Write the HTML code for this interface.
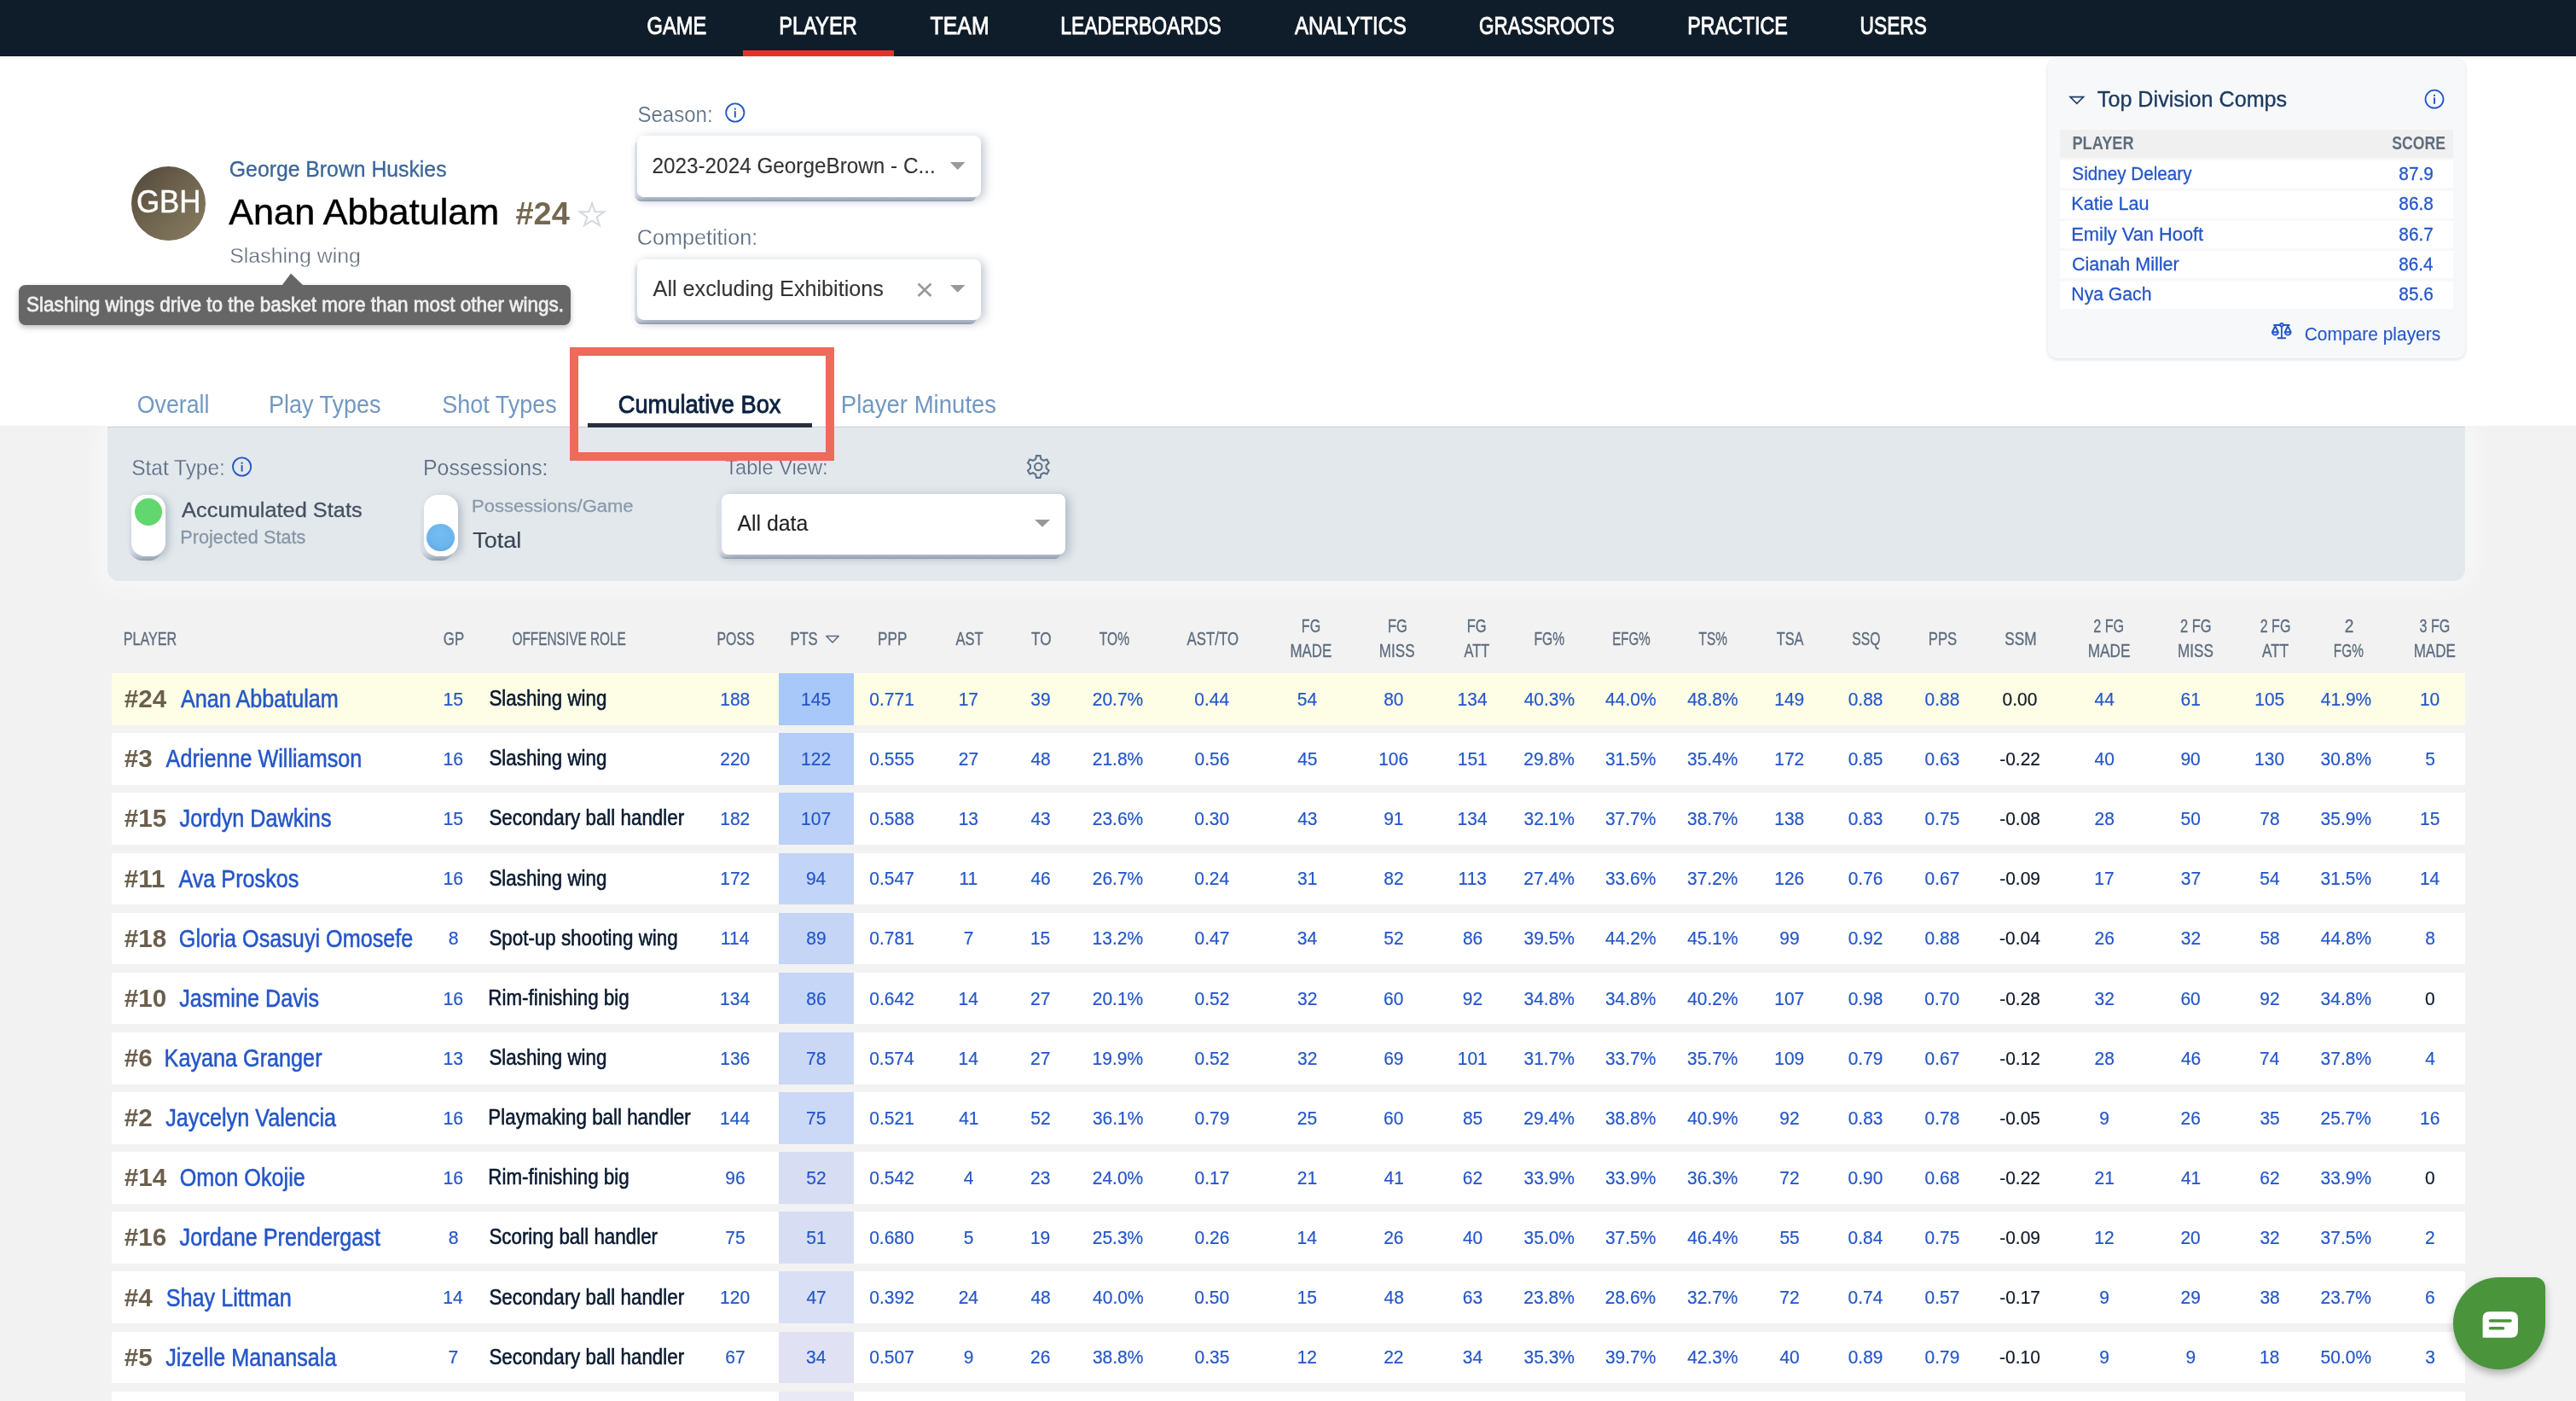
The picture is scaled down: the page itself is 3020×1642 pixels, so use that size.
<!DOCTYPE html>
<html><head><meta charset="utf-8"><style>
html,body{margin:0;padding:0}
body{width:3020px;height:1642px;overflow:hidden;position:relative;background:#f2f2f2;font-family:"Liberation Sans",sans-serif}
.d div{position:absolute}
svg text{font-family:"Liberation Sans",sans-serif;white-space:pre}
.t div{position:absolute}
</style></head><body>
<div class="d"><div style="left:0.0px;top:0.0px;width:3020.0px;height:499.0px;background:#fff"></div>
<div style="left:0.0px;top:0.0px;width:3020.0px;height:66.0px;background:#0f1c29"></div>
<div style="left:871.0px;top:59.0px;width:177.0px;height:7.0px;background:#e8302b"></div>
<div style="left:154.0px;top:195.0px;width:87.0px;height:87.0px;border-radius:50%;background:linear-gradient(135deg,#51473a 0%,#6f654f 50%,#8a7e62 100%)"></div>
<div style="left:22.0px;top:334.0px;width:647.0px;height:47.0px;background:#666;border-radius:8px;box-shadow:0 3px 6px rgba(0,0,0,0.25)"></div>
<div style="left:743.5px;top:163.5px;width:401.5px;height:72.0px;border-radius:8px;background:linear-gradient(to bottom,#e8ebf0 0%,#dde2e9 88%,#c3cbd7 95%,#94a2b8 100%);box-shadow:0 3px 6px rgba(40,60,90,0.07)"></div>
<div style="left:747.0px;top:159.0px;width:403.0px;height:72.0px;background:#fff;border-radius:8px;box-shadow:4px 2px 12px rgba(60,80,110,0.32)"></div>
<div style="left:743.5px;top:308.3px;width:401.5px;height:71.5px;border-radius:8px;background:linear-gradient(to bottom,#e8ebf0 0%,#dde2e9 88%,#c3cbd7 95%,#94a2b8 100%);box-shadow:0 3px 6px rgba(40,60,90,0.07)"></div>
<div style="left:747.0px;top:303.8px;width:403.0px;height:71.5px;background:#fff;border-radius:8px;box-shadow:4px 2px 12px rgba(60,80,110,0.32)"></div>
<div style="left:2401.0px;top:69.2px;width:488.6px;height:351.2px;background:#f7f8fa;border-radius:10px;box-shadow:0 1px 4px rgba(0,0,0,0.14)"></div>
<div style="left:2415.0px;top:152.2px;width:461.0px;height:32.5px;background:#f0f0f0"></div>
<div style="left:2415.0px;top:188.2px;width:461.0px;height:32.0px;background:#fff"></div>
<div style="left:2415.0px;top:223.5px;width:461.0px;height:32.0px;background:#fff"></div>
<div style="left:2415.0px;top:258.9px;width:461.0px;height:32.0px;background:#fff"></div>
<div style="left:2415.0px;top:294.2px;width:461.0px;height:32.0px;background:#fff"></div>
<div style="left:2415.0px;top:329.6px;width:461.0px;height:32.0px;background:#fff"></div>
<div style="left:126.0px;top:499.5px;width:2764.0px;height:180.6px;background:#e3e8ec;border-top:1px solid #c9d2dc;border-radius:0 0 14px 14px;box-shadow:0 0 30px 6px rgba(255,255,255,0.55)"></div>
<div style="left:689.0px;top:495.8px;width:263.0px;height:5.0px;background:#26303c"></div>
<div style="left:150.7px;top:584.8px;width:40.0px;height:72.0px;border-radius:16px;background:linear-gradient(to bottom,#e3e7ed 0%,#dadfe7 86%,#bcc5d2 94%,#94a2b8 100%)"></div>
<div style="left:154.2px;top:580.3px;width:40.0px;height:72.0px;border-radius:16px;background:#fff;box-shadow:4px 2px 10px rgba(70,90,120,0.30)"></div>
<div style="left:157.8px;top:583.5px;width:32.5px;height:32.5px;border-radius:50%;background:radial-gradient(circle at 50% 40%,#64d870 0%,#62d66e 70%,#52bd5f 100%)"></div>
<div style="left:493.1px;top:584.8px;width:40.0px;height:72.0px;border-radius:16px;background:linear-gradient(to bottom,#e3e7ed 0%,#dadfe7 86%,#bcc5d2 94%,#94a2b8 100%)"></div>
<div style="left:496.6px;top:580.3px;width:40.0px;height:72.0px;border-radius:16px;background:#fff;box-shadow:4px 2px 10px rgba(70,90,120,0.30)"></div>
<div style="left:500.4px;top:613.9px;width:32.5px;height:32.5px;border-radius:50%;background:radial-gradient(circle at 50% 35%,#74bcf2 0%,#6cb4ee 60%,#5a98cc 100%)"></div>
<div style="left:842.5px;top:583.0px;width:401.5px;height:71.7px;border-radius:8px;background:linear-gradient(to bottom,#e8ebf0 0%,#dde2e9 88%,#c3cbd7 95%,#94a2b8 100%);box-shadow:0 3px 6px rgba(40,60,90,0.07)"></div>
<div style="left:846.0px;top:578.5px;width:403.0px;height:71.7px;background:#fff;border-radius:8px;box-shadow:4px 2px 12px rgba(60,80,110,0.32)"></div>
<div style="left:130.9px;top:789.0px;width:2759.1px;height:60.8px;background:#fefee6"></div>
<div style="left:913.0px;top:789.0px;width:88.0px;height:60.8px;background:#a8c8fa"></div>
<div style="left:130.9px;top:859.2px;width:2759.1px;height:60.8px;background:#fff"></div>
<div style="left:913.0px;top:859.2px;width:88.0px;height:60.8px;background:#b4cdf9"></div>
<div style="left:130.9px;top:929.3px;width:2759.1px;height:60.8px;background:#fff"></div>
<div style="left:913.0px;top:929.3px;width:88.0px;height:60.8px;background:#bbd1f8"></div>
<div style="left:130.9px;top:999.5px;width:2759.1px;height:60.8px;background:#fff"></div>
<div style="left:913.0px;top:999.5px;width:88.0px;height:60.8px;background:#c2d4f7"></div>
<div style="left:130.9px;top:1069.6px;width:2759.1px;height:60.8px;background:#fff"></div>
<div style="left:913.0px;top:1069.6px;width:88.0px;height:60.8px;background:#c4d5f6"></div>
<div style="left:130.9px;top:1139.7px;width:2759.1px;height:60.8px;background:#fff"></div>
<div style="left:913.0px;top:1139.7px;width:88.0px;height:60.8px;background:#c6d6f6"></div>
<div style="left:130.9px;top:1209.9px;width:2759.1px;height:60.8px;background:#fff"></div>
<div style="left:913.0px;top:1209.9px;width:88.0px;height:60.8px;background:#cad8f6"></div>
<div style="left:130.9px;top:1280.0px;width:2759.1px;height:60.8px;background:#fff"></div>
<div style="left:913.0px;top:1280.0px;width:88.0px;height:60.8px;background:#cbd8f6"></div>
<div style="left:130.9px;top:1350.2px;width:2759.1px;height:60.8px;background:#fff"></div>
<div style="left:913.0px;top:1350.2px;width:88.0px;height:60.8px;background:#d7def4"></div>
<div style="left:130.9px;top:1420.3px;width:2759.1px;height:60.8px;background:#fff"></div>
<div style="left:913.0px;top:1420.3px;width:88.0px;height:60.8px;background:#d7def4"></div>
<div style="left:130.9px;top:1490.4px;width:2759.1px;height:60.8px;background:#fff"></div>
<div style="left:913.0px;top:1490.4px;width:88.0px;height:60.8px;background:#d9dff4"></div>
<div style="left:130.9px;top:1560.6px;width:2759.1px;height:60.8px;background:#fff"></div>
<div style="left:913.0px;top:1560.6px;width:88.0px;height:60.8px;background:#e0e2f3"></div>
<div style="left:130.9px;top:1630.7px;width:2759.1px;height:60.0px;background:#fff"></div>
<div style="left:913.0px;top:1630.7px;width:88.0px;height:60.0px;background:#e8e9f4"></div></div>
<svg style="position:absolute;left:0;top:0;will-change:transform" width="3020" height="1642">
<path d="M694,238.2 L697.5,248.3 L708.2,248.3 L699.6,254.4 L702.8,264.2 L694,258.6 L685.2,264.2 L688.4,254.4 L679.8,248.3 L690.5,248.3 Z" fill="none" stroke="#d3d9df" stroke-width="2" stroke-linejoin="miter"/>
<path d="M330.5,334.5 L341,320.5 L355.5,334.5 Z" fill="#666"/>
<path d="M1114,190 L1131.5,190 L1122.75,199 Z" fill="#999"/>
<path d="M1076.5,332.5 L1091.5,347 M1091.5,332.5 L1076.5,347" stroke="#999" stroke-width="2.6"/>
<path d="M1114,333.9 L1131.5,333.9 L1122.75,342.7 Z" fill="#999"/>
<circle cx="861.8" cy="132.0" r="10.60" fill="none" stroke="#2456c8" stroke-width="1.8"/>
<rect x="860.85" y="130.15" width="1.9" height="7.5" fill="#2456c8"/>
<rect x="860.80" y="126.65" width="2" height="2" fill="#2456c8"/>
<path d="M2427,113.6 L2442.6,113.6 L2434.8,121.4 Z" fill="none" stroke="#1f3d62" stroke-width="1.6" stroke-linejoin="miter"/>
<circle cx="2854.0" cy="116.2" r="10.50" fill="none" stroke="#2456c8" stroke-width="1.8"/>
<rect x="2853.05" y="114.35" width="1.9" height="7.5" fill="#2456c8"/>
<rect x="2853.00" y="110.85" width="2" height="2" fill="#2456c8"/>
<g stroke="#2456c8" stroke-width="1.9" fill="none" stroke-linecap="round" stroke-linejoin="round"><path d="M2666,381 L2673,381 M2676.8,381 L2683.8,381 M2674.9,382.6 L2674.9,396.3 M2670.5,396.3 L2679.3,396.3"/><path d="M2667.4,382.3 L2663.9,389.2 M2667.4,382.3 L2670.9,389.2 M2663.9,389.2 L2670.9,389.2 M2663.9,389.2 A3.5,3.4 0 0 0 2670.9,389.2"/><path d="M2682.2,382.3 L2678.7,389.2 M2682.2,382.3 L2685.7,389.2 M2678.7,389.2 L2685.7,389.2 M2678.7,389.2 A3.5,3.4 0 0 0 2685.7,389.2"/><circle cx="2674.9" cy="380.8" r="1.8"/></g>
<circle cx="283.6" cy="547.0" r="10.60" fill="none" stroke="#2456c8" stroke-width="1.8"/>
<rect x="282.65" y="545.15" width="1.9" height="7.5" fill="#2456c8"/>
<rect x="282.60" y="541.65" width="2" height="2" fill="#2456c8"/>
<path d="M1213,609.1 L1231,609.1 L1222,617.8 Z" fill="#999"/>
<path d="M1214.20,538.00 L1215.00,534.10 L1219.60,534.10 L1220.40,538.00 L1223.54,539.82 L1227.32,538.56 L1229.62,542.54 L1226.64,545.18 L1226.64,548.82 L1229.62,551.46 L1227.32,555.44 L1223.54,554.18 L1220.40,556.00 L1219.60,559.90 L1215.00,559.90 L1214.20,556.00 L1211.06,554.18 L1207.28,555.44 L1204.98,551.46 L1207.96,548.82 L1207.96,545.18 L1204.98,542.54 L1207.28,538.56 L1211.06,539.82 Z" fill="none" stroke="#5f7288" stroke-width="2.1" stroke-linejoin="miter"/>
<circle cx="1217.3" cy="547.0" r="4.3" fill="none" stroke="#5f7288" stroke-width="2.1"/>
<path d="M968.8,745.5 L983.2,745.5 L976,753 Z" fill="none" stroke="#5b6b7e" stroke-width="1.6" stroke-linejoin="round"/>
<text transform="translate(758.59 39.90) scale(0.7924 1)" font-size="29.87" fill="#ffffff" stroke="#ffffff" stroke-width="0.90">GAME</text>
<text transform="translate(913.15 39.90) scale(0.7925 1)" font-size="29.87" fill="#ffffff" stroke="#ffffff" stroke-width="0.90">PLAYER</text>
<text transform="translate(1090.61 39.90) scale(0.8323 1)" font-size="29.87" fill="#ffffff" stroke="#ffffff" stroke-width="0.90">TEAM</text>
<text transform="translate(1243.21 39.90) scale(0.7683 1)" font-size="29.87" fill="#ffffff" stroke="#ffffff" stroke-width="0.90">LEADERBOARDS</text>
<text transform="translate(1518.00 39.90) scale(0.7998 1)" font-size="29.87" fill="#ffffff" stroke="#ffffff" stroke-width="0.90">ANALYTICS</text>
<text transform="translate(1733.94 39.90) scale(0.7543 1)" font-size="29.87" fill="#ffffff" stroke="#ffffff" stroke-width="0.90">GRASSROOTS</text>
<text transform="translate(1978.18 39.90) scale(0.7799 1)" font-size="29.87" fill="#ffffff" stroke="#ffffff" stroke-width="0.90">PRACTICE</text>
<text transform="translate(2180.58 39.90) scale(0.7615 1)" font-size="29.87" fill="#ffffff" stroke="#ffffff" stroke-width="0.90">USERS</text>
<text transform="translate(159.97 249.20) scale(0.9417 1)" font-size="36.98" fill="#ffffff" stroke="#ffffff" stroke-width="0.50">GBH</text>
<text transform="translate(268.84 206.50) scale(0.9952 1)" font-size="24.89" fill="#3a6697" stroke="#3a6697" stroke-width="0.30">George Brown Huskies</text>
<text transform="translate(268.30 263.40) scale(1.0223 1)" font-size="42.25" fill="#000000" stroke="#000000" stroke-width="0.50">Anan Abbatulam</text>
<text transform="translate(604.41 263.40) scale(1.0267 1)" font-size="36.98" fill="#746850" font-weight="bold">#24</text>
<text transform="translate(269.22 307.80) scale(1.0121 1)" font-size="24.61" fill="#66717f" stroke="#ffffff" stroke-width="0.30">Slashing wing</text>
<text transform="translate(30.90 364.60) scale(0.9094 1)" font-size="24.75" fill="#eeeeee" stroke="#eeeeee" stroke-width="0.80">Slashing wings drive to the basket more than most other wings.</text>
<text transform="translate(747.45 143.00) scale(0.9287 1)" font-size="25.89" fill="#5b6d82" stroke="#ffffff" stroke-width="0.25">Season:</text>
<text transform="translate(764.46 202.90) scale(0.9495 1)" font-size="25.60" fill="#333333" stroke="#333333" stroke-width="0.10">2023-2024 GeorgeBrown - C...</text>
<text transform="translate(746.82 287.30) scale(1.0065 1)" font-size="25.04" fill="#5b6d82" stroke="#ffffff" stroke-width="0.25">Competition:</text>
<text transform="translate(765.60 347.30) scale(0.9530 1)" font-size="26.46" fill="#333333" stroke="#333333" stroke-width="0.10">All excluding Exhibitions</text>
<text transform="translate(2458.81 124.80) scale(0.9944 1)" font-size="25.32" fill="#1b3a5f" stroke="#1b3a5f" stroke-width="0.35">Top Division Comps</text>
<text transform="translate(2429.46 174.90) scale(0.8300 1)" font-size="21.91" fill="#5f6d7d" font-weight="bold">PLAYER</text>
<text transform="translate(2804.32 174.90) scale(0.8067 1)" font-size="21.91" fill="#5f6d7d" font-weight="bold">SCORE</text>
<text transform="translate(2429.35 210.90) scale(0.9267 1)" font-size="22.33" fill="#2456c8" stroke="#2456c8" stroke-width="0.30">Sidney Deleary</text>
<text transform="translate(2812.35 210.90) scale(0.9292 1)" font-size="22.33" fill="#2456c8" stroke="#2456c8" stroke-width="0.30">87.9</text>
<text transform="translate(2428.31 246.25) scale(0.9675 1)" font-size="22.33" fill="#2456c8" stroke="#2456c8" stroke-width="0.30">Katie Lau</text>
<text transform="translate(2812.35 246.25) scale(0.9292 1)" font-size="22.33" fill="#2456c8" stroke="#2456c8" stroke-width="0.30">86.8</text>
<text transform="translate(2428.29 281.60) scale(0.9778 1)" font-size="22.33" fill="#2456c8" stroke="#2456c8" stroke-width="0.30">Emily Van Hooft</text>
<text transform="translate(2812.35 281.60) scale(0.9292 1)" font-size="22.33" fill="#2456c8" stroke="#2456c8" stroke-width="0.30">86.7</text>
<text transform="translate(2428.99 316.95) scale(0.9662 1)" font-size="22.33" fill="#2456c8" stroke="#2456c8" stroke-width="0.30">Cianah Miller</text>
<text transform="translate(2812.36 316.95) scale(0.9215 1)" font-size="22.33" fill="#2456c8" stroke="#2456c8" stroke-width="0.30">86.4</text>
<text transform="translate(2428.35 352.30) scale(0.9481 1)" font-size="22.33" fill="#2456c8" stroke="#2456c8" stroke-width="0.30">Nya Gach</text>
<text transform="translate(2812.35 352.30) scale(0.9292 1)" font-size="22.33" fill="#2456c8" stroke="#2456c8" stroke-width="0.30">85.6</text>
<text transform="translate(2701.72 399.30) scale(0.9322 1)" font-size="22.48" fill="#2456c8" stroke="#2456c8" stroke-width="0.10">Compare players</text>
<text transform="translate(160.75 483.60) scale(0.9127 1)" font-size="29.30" fill="#7298c0">Overall</text>
<text transform="translate(314.89 483.60) scale(0.9221 1)" font-size="29.30" fill="#7298c0">Play Types</text>
<text transform="translate(518.16 483.60) scale(0.9222 1)" font-size="29.30" fill="#7298c0">Shot Types</text>
<text transform="translate(724.72 483.60) scale(0.9302 1)" font-size="29.30" fill="#0d2240" stroke="#0d2240" stroke-width="0.90">Cumulative Box</text>
<text transform="translate(985.85 483.60) scale(0.9412 1)" font-size="29.30" fill="#7298c0">Player Minutes</text>
<text transform="translate(154.24 557.00) scale(0.9557 1)" font-size="25.60" fill="#5b6d82" stroke="#e4e8ed" stroke-width="0.25">Stat Type:</text>
<text transform="translate(213.10 606.00) scale(1.0258 1)" font-size="24.75" fill="#44505e" stroke="#44505e" stroke-width="0.30">Accumulated Stats</text>
<text transform="translate(211.30 636.80) scale(0.9843 1)" font-size="22.05" fill="#8696a8" stroke="#8696a8" stroke-width="0.30">Projected Stats</text>
<text transform="translate(495.95 557.00) scale(0.9724 1)" font-size="25.60" fill="#5b6d82" stroke="#e4e8ed" stroke-width="0.25">Possessions:</text>
<text transform="translate(552.98 600.40) scale(1.0671 1)" font-size="20.63" fill="#8a9aac" stroke="#8a9aac" stroke-width="0.30">Possessions/Game</text>
<text transform="translate(554.28 642.20) scale(1.0442 1)" font-size="25.89" fill="#3a4756" stroke="#3a4756" stroke-width="0.20">Total</text>
<text transform="translate(850.23 555.50) scale(1.0191 1)" font-size="23.19" fill="#5b6d82" stroke="#e4e8ed" stroke-width="0.25">Table View:</text>
<text transform="translate(864.50 621.70) scale(0.9809 1)" font-size="25.32" fill="#222222" stroke="#222222" stroke-width="0.10">All data</text>
<text transform="translate(144.64 755.80) scale(0.7062 1)" font-size="22.90" fill="#5d6d7f" stroke="#5d6d7f" stroke-width="0.35">PLAYER</text>
<text transform="translate(519.81 755.80) scale(0.7342 1)" font-size="22.90" fill="#5d6d7f" stroke="#5d6d7f" stroke-width="0.35">GP</text>
<text transform="translate(600.48 755.80) scale(0.6723 1)" font-size="22.90" fill="#5d6d7f" stroke="#5d6d7f" stroke-width="0.35">OFFENSIVE ROLE</text>
<text transform="translate(840.46 755.80) scale(0.6931 1)" font-size="22.90" fill="#5d6d7f" stroke="#5d6d7f" stroke-width="0.35">POSS</text>
<text transform="translate(926.40 755.80) scale(0.7251 1)" font-size="22.90" fill="#5d6d7f" stroke="#5d6d7f" stroke-width="0.35">PTS</text>
<text transform="translate(1029.06 755.80) scale(0.7499 1)" font-size="22.90" fill="#5d6d7f" stroke="#5d6d7f" stroke-width="0.35">PPP</text>
<text transform="translate(1120.40 755.80) scale(0.7271 1)" font-size="22.90" fill="#5d6d7f" stroke="#5d6d7f" stroke-width="0.35">AST</text>
<text transform="translate(1209.03 755.80) scale(0.7491 1)" font-size="22.90" fill="#5d6d7f" stroke="#5d6d7f" stroke-width="0.35">TO</text>
<text transform="translate(1288.76 755.80) scale(0.6823 1)" font-size="22.90" fill="#5d6d7f" stroke="#5d6d7f" stroke-width="0.35">TO%</text>
<text transform="translate(1391.60 755.80) scale(0.7356 1)" font-size="22.90" fill="#5d6d7f" stroke="#5d6d7f" stroke-width="0.35">AST/TO</text>
<text transform="translate(1798.38 755.80) scale(0.6842 1)" font-size="22.90" fill="#5d6d7f" stroke="#5d6d7f" stroke-width="0.35">FG%</text>
<text transform="translate(1890.22 755.80) scale(0.6603 1)" font-size="22.90" fill="#5d6d7f" stroke="#5d6d7f" stroke-width="0.35">EFG%</text>
<text transform="translate(1991.56 755.80) scale(0.6751 1)" font-size="22.90" fill="#5d6d7f" stroke="#5d6d7f" stroke-width="0.35">TS%</text>
<text transform="translate(2082.64 755.80) scale(0.7157 1)" font-size="22.90" fill="#5d6d7f" stroke="#5d6d7f" stroke-width="0.35">TSA</text>
<text transform="translate(2171.31 755.80) scale(0.6881 1)" font-size="22.90" fill="#5d6d7f" stroke="#5d6d7f" stroke-width="0.35">SSQ</text>
<text transform="translate(2260.69 755.80) scale(0.7336 1)" font-size="22.90" fill="#5d6d7f" stroke="#5d6d7f" stroke-width="0.35">PPS</text>
<text transform="translate(2350.16 755.80) scale(0.7537 1)" font-size="22.90" fill="#5d6d7f" stroke="#5d6d7f" stroke-width="0.35">SSM</text>
<text transform="translate(1525.85 740.80) scale(0.6996 1)" font-size="22.90" fill="#5d6d7f" stroke="#5d6d7f" stroke-width="0.35">FG</text>
<text transform="translate(1512.38 770.00) scale(0.7380 1)" font-size="22.90" fill="#5d6d7f" stroke="#5d6d7f" stroke-width="0.35">MADE</text>
<text transform="translate(1626.91 740.80) scale(0.7208 1)" font-size="22.90" fill="#5d6d7f" stroke="#5d6d7f" stroke-width="0.35">FG</text>
<text transform="translate(1616.87 770.00) scale(0.7457 1)" font-size="22.90" fill="#5d6d7f" stroke="#5d6d7f" stroke-width="0.35">MISS</text>
<text transform="translate(1719.71 740.80) scale(0.7208 1)" font-size="22.90" fill="#5d6d7f" stroke="#5d6d7f" stroke-width="0.35">FG</text>
<text transform="translate(1716.40 770.00) scale(0.7191 1)" font-size="22.90" fill="#5d6d7f" stroke="#5d6d7f" stroke-width="0.35">ATT</text>
<text transform="translate(2454.24 740.80) scale(0.7066 1)" font-size="22.90" fill="#5d6d7f" stroke="#5d6d7f" stroke-width="0.35">2 FG</text>
<text transform="translate(2447.65 770.00) scale(0.7538 1)" font-size="22.90" fill="#5d6d7f" stroke="#5d6d7f" stroke-width="0.35">MADE</text>
<text transform="translate(2556.03 740.80) scale(0.7191 1)" font-size="22.90" fill="#5d6d7f" stroke="#5d6d7f" stroke-width="0.35">2 FG</text>
<text transform="translate(2552.96 770.00) scale(0.7513 1)" font-size="22.90" fill="#5d6d7f" stroke="#5d6d7f" stroke-width="0.35">MISS</text>
<text transform="translate(2649.64 740.80) scale(0.7045 1)" font-size="22.90" fill="#5d6d7f" stroke="#5d6d7f" stroke-width="0.35">2 FG</text>
<text transform="translate(2652.00 770.00) scale(0.7507 1)" font-size="22.90" fill="#5d6d7f" stroke="#5d6d7f" stroke-width="0.35">ATT</text>
<text transform="translate(2748.70 740.80) scale(0.8384 1)" font-size="22.90" fill="#5d6d7f" stroke="#5d6d7f" stroke-width="0.35">2</text>
<text transform="translate(2735.80 770.00) scale(0.6721 1)" font-size="22.90" fill="#5d6d7f" stroke="#5d6d7f" stroke-width="0.35">FG%</text>
<text transform="translate(2836.50 740.80) scale(0.7014 1)" font-size="22.90" fill="#5d6d7f" stroke="#5d6d7f" stroke-width="0.35">3 FG</text>
<text transform="translate(2829.67 770.00) scale(0.7443 1)" font-size="22.90" fill="#5d6d7f" stroke="#5d6d7f" stroke-width="0.35">MADE</text>
<text transform="translate(145.84 829.14) scale(0.9800 1)" font-size="30.16" fill="#6b5f4c" font-weight="bold">#24</text>
<text transform="translate(211.93 829.14) scale(0.8360 1)" font-size="30.16" fill="#2456c8" stroke="#2456c8" stroke-width="0.55">Anan Abbatulam</text>
<text transform="translate(519.47 826.84) scale(0.9500 1)" font-size="22.33" fill="#2456c8" stroke="#2456c8" stroke-width="0.20">15</text>
<text transform="translate(573.40 827.14) scale(0.8550 1)" font-size="26.17" fill="#0a1a30" stroke="#0a1a30" stroke-width="0.60">Slashing wing</text>
<text transform="translate(844.26 826.84) scale(0.9400 1)" font-size="22.33" fill="#2456c8" stroke="#2456c8" stroke-width="0.20">188</text>
<text transform="translate(939.06 826.84) scale(0.9400 1)" font-size="22.33" fill="#2456c8" stroke="#2456c8" stroke-width="0.20">145</text>
<text transform="translate(1019.33 826.84) scale(0.9400 1)" font-size="22.33" fill="#2456c8" stroke="#2456c8" stroke-width="0.20">0.771</text>
<text transform="translate(1123.69 826.84) scale(0.9400 1)" font-size="22.33" fill="#2456c8" stroke="#2456c8" stroke-width="0.20">17</text>
<text transform="translate(1208.22 826.84) scale(0.9400 1)" font-size="22.33" fill="#2456c8" stroke="#2456c8" stroke-width="0.20">39</text>
<text transform="translate(1280.76 826.84) scale(0.9400 1)" font-size="22.33" fill="#2456c8" stroke="#2456c8" stroke-width="0.20">20.7%</text>
<text transform="translate(1400.30 826.84) scale(0.9400 1)" font-size="22.33" fill="#2456c8" stroke="#2456c8" stroke-width="0.20">0.44</text>
<text transform="translate(1520.86 826.84) scale(0.9400 1)" font-size="22.33" fill="#2456c8" stroke="#2456c8" stroke-width="0.20">54</text>
<text transform="translate(1622.16 826.84) scale(0.9400 1)" font-size="22.33" fill="#2456c8" stroke="#2456c8" stroke-width="0.20">80</text>
<text transform="translate(1708.59 826.84) scale(0.9400 1)" font-size="22.33" fill="#2456c8" stroke="#2456c8" stroke-width="0.20">134</text>
<text transform="translate(1786.69 826.84) scale(0.9400 1)" font-size="22.33" fill="#2456c8" stroke="#2456c8" stroke-width="0.20">40.3%</text>
<text transform="translate(1882.09 826.84) scale(0.9400 1)" font-size="22.33" fill="#2456c8" stroke="#2456c8" stroke-width="0.20">44.0%</text>
<text transform="translate(1978.19 826.84) scale(0.9400 1)" font-size="22.33" fill="#2456c8" stroke="#2456c8" stroke-width="0.20">48.8%</text>
<text transform="translate(2080.26 826.84) scale(0.9400 1)" font-size="22.33" fill="#2456c8" stroke="#2456c8" stroke-width="0.20">149</text>
<text transform="translate(2166.67 826.84) scale(0.9400 1)" font-size="22.33" fill="#2456c8" stroke="#2456c8" stroke-width="0.20">0.88</text>
<text transform="translate(2256.47 826.84) scale(0.9400 1)" font-size="22.33" fill="#2456c8" stroke="#2456c8" stroke-width="0.20">0.88</text>
<text transform="translate(2347.50 826.84) scale(0.9400 1)" font-size="22.33" fill="#111a28" stroke="#111a28" stroke-width="0.20">0.00</text>
<text transform="translate(2455.62 826.84) scale(0.9400 1)" font-size="22.33" fill="#2456c8" stroke="#2456c8" stroke-width="0.20">44</text>
<text transform="translate(2556.56 826.84) scale(0.9400 1)" font-size="22.33" fill="#2456c8" stroke="#2456c8" stroke-width="0.20">61</text>
<text transform="translate(2643.26 826.84) scale(0.9400 1)" font-size="22.33" fill="#2456c8" stroke="#2456c8" stroke-width="0.20">105</text>
<text transform="translate(2720.79 826.84) scale(0.9400 1)" font-size="22.33" fill="#2456c8" stroke="#2456c8" stroke-width="0.20">41.9%</text>
<text transform="translate(2836.93 826.84) scale(0.9400 1)" font-size="22.33" fill="#2456c8" stroke="#2456c8" stroke-width="0.20">10</text>
<text transform="translate(145.84 899.28) scale(0.9800 1)" font-size="30.16" fill="#6b5f4c" font-weight="bold">#3</text>
<text transform="translate(194.57 899.28) scale(0.8360 1)" font-size="30.16" fill="#2456c8" stroke="#2456c8" stroke-width="0.55">Adrienne Williamson</text>
<text transform="translate(519.47 896.98) scale(0.9500 1)" font-size="22.33" fill="#2456c8" stroke="#2456c8" stroke-width="0.20">16</text>
<text transform="translate(573.40 897.28) scale(0.8550 1)" font-size="26.17" fill="#0a1a30" stroke="#0a1a30" stroke-width="0.60">Slashing wing</text>
<text transform="translate(844.26 896.98) scale(0.9400 1)" font-size="22.33" fill="#2456c8" stroke="#2456c8" stroke-width="0.20">220</text>
<text transform="translate(939.06 896.98) scale(0.9400 1)" font-size="22.33" fill="#2456c8" stroke="#2456c8" stroke-width="0.20">122</text>
<text transform="translate(1019.33 896.98) scale(0.9400 1)" font-size="22.33" fill="#2456c8" stroke="#2456c8" stroke-width="0.20">0.555</text>
<text transform="translate(1123.86 896.98) scale(0.9400 1)" font-size="22.33" fill="#2456c8" stroke="#2456c8" stroke-width="0.20">27</text>
<text transform="translate(1208.39 896.98) scale(0.9400 1)" font-size="22.33" fill="#2456c8" stroke="#2456c8" stroke-width="0.20">48</text>
<text transform="translate(1280.76 896.98) scale(0.9400 1)" font-size="22.33" fill="#2456c8" stroke="#2456c8" stroke-width="0.20">21.8%</text>
<text transform="translate(1400.47 896.98) scale(0.9400 1)" font-size="22.33" fill="#2456c8" stroke="#2456c8" stroke-width="0.20">0.56</text>
<text transform="translate(1521.19 896.98) scale(0.9400 1)" font-size="22.33" fill="#2456c8" stroke="#2456c8" stroke-width="0.20">45</text>
<text transform="translate(1616.16 896.98) scale(0.9400 1)" font-size="22.33" fill="#2456c8" stroke="#2456c8" stroke-width="0.20">106</text>
<text transform="translate(1708.76 896.98) scale(0.9400 1)" font-size="22.33" fill="#2456c8" stroke="#2456c8" stroke-width="0.20">151</text>
<text transform="translate(1786.36 896.98) scale(0.9400 1)" font-size="22.33" fill="#2456c8" stroke="#2456c8" stroke-width="0.20">29.8%</text>
<text transform="translate(1881.92 896.98) scale(0.9400 1)" font-size="22.33" fill="#2456c8" stroke="#2456c8" stroke-width="0.20">31.5%</text>
<text transform="translate(1978.02 896.98) scale(0.9400 1)" font-size="22.33" fill="#2456c8" stroke="#2456c8" stroke-width="0.20">35.4%</text>
<text transform="translate(2080.26 896.98) scale(0.9400 1)" font-size="22.33" fill="#2456c8" stroke="#2456c8" stroke-width="0.20">172</text>
<text transform="translate(2166.67 896.98) scale(0.9400 1)" font-size="22.33" fill="#2456c8" stroke="#2456c8" stroke-width="0.20">0.85</text>
<text transform="translate(2256.47 896.98) scale(0.9400 1)" font-size="22.33" fill="#2456c8" stroke="#2456c8" stroke-width="0.20">0.63</text>
<text transform="translate(2344.17 896.98) scale(0.9400 1)" font-size="22.33" fill="#111a28" stroke="#111a28" stroke-width="0.20">-0.22</text>
<text transform="translate(2455.62 896.98) scale(0.9400 1)" font-size="22.33" fill="#2456c8" stroke="#2456c8" stroke-width="0.20">40</text>
<text transform="translate(2556.39 896.98) scale(0.9400 1)" font-size="22.33" fill="#2456c8" stroke="#2456c8" stroke-width="0.20">90</text>
<text transform="translate(2643.09 896.98) scale(0.9400 1)" font-size="22.33" fill="#2456c8" stroke="#2456c8" stroke-width="0.20">130</text>
<text transform="translate(2720.62 896.98) scale(0.9400 1)" font-size="22.33" fill="#2456c8" stroke="#2456c8" stroke-width="0.20">30.8%</text>
<text transform="translate(2843.26 896.98) scale(0.9400 1)" font-size="22.33" fill="#2456c8" stroke="#2456c8" stroke-width="0.20">5</text>
<text transform="translate(145.84 969.42) scale(0.9800 1)" font-size="30.16" fill="#6b5f4c" font-weight="bold">#15</text>
<text transform="translate(210.62 969.42) scale(0.8360 1)" font-size="30.16" fill="#2456c8" stroke="#2456c8" stroke-width="0.55">Jordyn Dawkins</text>
<text transform="translate(519.47 967.12) scale(0.9500 1)" font-size="22.33" fill="#2456c8" stroke="#2456c8" stroke-width="0.20">15</text>
<text transform="translate(573.40 967.42) scale(0.8550 1)" font-size="26.17" fill="#0a1a30" stroke="#0a1a30" stroke-width="0.60">Secondary ball handler</text>
<text transform="translate(844.26 967.12) scale(0.9400 1)" font-size="22.33" fill="#2456c8" stroke="#2456c8" stroke-width="0.20">182</text>
<text transform="translate(939.06 967.12) scale(0.9400 1)" font-size="22.33" fill="#2456c8" stroke="#2456c8" stroke-width="0.20">107</text>
<text transform="translate(1019.33 967.12) scale(0.9400 1)" font-size="22.33" fill="#2456c8" stroke="#2456c8" stroke-width="0.20">0.588</text>
<text transform="translate(1123.69 967.12) scale(0.9400 1)" font-size="22.33" fill="#2456c8" stroke="#2456c8" stroke-width="0.20">13</text>
<text transform="translate(1208.39 967.12) scale(0.9400 1)" font-size="22.33" fill="#2456c8" stroke="#2456c8" stroke-width="0.20">43</text>
<text transform="translate(1280.76 967.12) scale(0.9400 1)" font-size="22.33" fill="#2456c8" stroke="#2456c8" stroke-width="0.20">23.6%</text>
<text transform="translate(1400.30 967.12) scale(0.9400 1)" font-size="22.33" fill="#2456c8" stroke="#2456c8" stroke-width="0.20">0.30</text>
<text transform="translate(1521.19 967.12) scale(0.9400 1)" font-size="22.33" fill="#2456c8" stroke="#2456c8" stroke-width="0.20">43</text>
<text transform="translate(1622.16 967.12) scale(0.9400 1)" font-size="22.33" fill="#2456c8" stroke="#2456c8" stroke-width="0.20">91</text>
<text transform="translate(1708.59 967.12) scale(0.9400 1)" font-size="22.33" fill="#2456c8" stroke="#2456c8" stroke-width="0.20">134</text>
<text transform="translate(1786.52 967.12) scale(0.9400 1)" font-size="22.33" fill="#2456c8" stroke="#2456c8" stroke-width="0.20">32.1%</text>
<text transform="translate(1881.92 967.12) scale(0.9400 1)" font-size="22.33" fill="#2456c8" stroke="#2456c8" stroke-width="0.20">37.7%</text>
<text transform="translate(1978.02 967.12) scale(0.9400 1)" font-size="22.33" fill="#2456c8" stroke="#2456c8" stroke-width="0.20">38.7%</text>
<text transform="translate(2080.26 967.12) scale(0.9400 1)" font-size="22.33" fill="#2456c8" stroke="#2456c8" stroke-width="0.20">138</text>
<text transform="translate(2166.67 967.12) scale(0.9400 1)" font-size="22.33" fill="#2456c8" stroke="#2456c8" stroke-width="0.20">0.83</text>
<text transform="translate(2256.47 967.12) scale(0.9400 1)" font-size="22.33" fill="#2456c8" stroke="#2456c8" stroke-width="0.20">0.75</text>
<text transform="translate(2344.17 967.12) scale(0.9400 1)" font-size="22.33" fill="#111a28" stroke="#111a28" stroke-width="0.20">-0.08</text>
<text transform="translate(2455.46 967.12) scale(0.9400 1)" font-size="22.33" fill="#2456c8" stroke="#2456c8" stroke-width="0.20">28</text>
<text transform="translate(2556.56 967.12) scale(0.9400 1)" font-size="22.33" fill="#2456c8" stroke="#2456c8" stroke-width="0.20">50</text>
<text transform="translate(2649.26 967.12) scale(0.9400 1)" font-size="22.33" fill="#2456c8" stroke="#2456c8" stroke-width="0.20">78</text>
<text transform="translate(2720.62 967.12) scale(0.9400 1)" font-size="22.33" fill="#2456c8" stroke="#2456c8" stroke-width="0.20">35.9%</text>
<text transform="translate(2837.09 967.12) scale(0.9400 1)" font-size="22.33" fill="#2456c8" stroke="#2456c8" stroke-width="0.20">15</text>
<text transform="translate(145.84 1039.56) scale(0.9800 1)" font-size="30.16" fill="#6b5f4c" font-weight="bold">#11</text>
<text transform="translate(209.38 1039.56) scale(0.8360 1)" font-size="30.16" fill="#2456c8" stroke="#2456c8" stroke-width="0.55">Ava Proskos</text>
<text transform="translate(519.47 1037.26) scale(0.9500 1)" font-size="22.33" fill="#2456c8" stroke="#2456c8" stroke-width="0.20">16</text>
<text transform="translate(573.40 1037.56) scale(0.8550 1)" font-size="26.17" fill="#0a1a30" stroke="#0a1a30" stroke-width="0.60">Slashing wing</text>
<text transform="translate(844.26 1037.26) scale(0.9400 1)" font-size="22.33" fill="#2456c8" stroke="#2456c8" stroke-width="0.20">172</text>
<text transform="translate(944.89 1037.26) scale(0.9400 1)" font-size="22.33" fill="#2456c8" stroke="#2456c8" stroke-width="0.20">94</text>
<text transform="translate(1019.33 1037.26) scale(0.9400 1)" font-size="22.33" fill="#2456c8" stroke="#2456c8" stroke-width="0.20">0.547</text>
<text transform="translate(1124.47 1037.26) scale(0.9400 1)" font-size="22.33" fill="#2456c8" stroke="#2456c8" stroke-width="0.20">11</text>
<text transform="translate(1208.39 1037.26) scale(0.9400 1)" font-size="22.33" fill="#2456c8" stroke="#2456c8" stroke-width="0.20">46</text>
<text transform="translate(1280.76 1037.26) scale(0.9400 1)" font-size="22.33" fill="#2456c8" stroke="#2456c8" stroke-width="0.20">26.7%</text>
<text transform="translate(1400.30 1037.26) scale(0.9400 1)" font-size="22.33" fill="#2456c8" stroke="#2456c8" stroke-width="0.20">0.24</text>
<text transform="translate(1521.02 1037.26) scale(0.9400 1)" font-size="22.33" fill="#2456c8" stroke="#2456c8" stroke-width="0.20">31</text>
<text transform="translate(1622.32 1037.26) scale(0.9400 1)" font-size="22.33" fill="#2456c8" stroke="#2456c8" stroke-width="0.20">82</text>
<text transform="translate(1709.54 1037.26) scale(0.9400 1)" font-size="22.33" fill="#2456c8" stroke="#2456c8" stroke-width="0.20">113</text>
<text transform="translate(1786.36 1037.26) scale(0.9400 1)" font-size="22.33" fill="#2456c8" stroke="#2456c8" stroke-width="0.20">27.4%</text>
<text transform="translate(1881.92 1037.26) scale(0.9400 1)" font-size="22.33" fill="#2456c8" stroke="#2456c8" stroke-width="0.20">33.6%</text>
<text transform="translate(1978.02 1037.26) scale(0.9400 1)" font-size="22.33" fill="#2456c8" stroke="#2456c8" stroke-width="0.20">37.2%</text>
<text transform="translate(2080.26 1037.26) scale(0.9400 1)" font-size="22.33" fill="#2456c8" stroke="#2456c8" stroke-width="0.20">126</text>
<text transform="translate(2166.67 1037.26) scale(0.9400 1)" font-size="22.33" fill="#2456c8" stroke="#2456c8" stroke-width="0.20">0.76</text>
<text transform="translate(2256.47 1037.26) scale(0.9400 1)" font-size="22.33" fill="#2456c8" stroke="#2456c8" stroke-width="0.20">0.67</text>
<text transform="translate(2344.17 1037.26) scale(0.9400 1)" font-size="22.33" fill="#111a28" stroke="#111a28" stroke-width="0.20">-0.09</text>
<text transform="translate(2455.29 1037.26) scale(0.9400 1)" font-size="22.33" fill="#2456c8" stroke="#2456c8" stroke-width="0.20">17</text>
<text transform="translate(2556.72 1037.26) scale(0.9400 1)" font-size="22.33" fill="#2456c8" stroke="#2456c8" stroke-width="0.20">37</text>
<text transform="translate(2649.26 1037.26) scale(0.9400 1)" font-size="22.33" fill="#2456c8" stroke="#2456c8" stroke-width="0.20">54</text>
<text transform="translate(2720.62 1037.26) scale(0.9400 1)" font-size="22.33" fill="#2456c8" stroke="#2456c8" stroke-width="0.20">31.5%</text>
<text transform="translate(2836.93 1037.26) scale(0.9400 1)" font-size="22.33" fill="#2456c8" stroke="#2456c8" stroke-width="0.20">14</text>
<text transform="translate(145.84 1109.70) scale(0.9800 1)" font-size="30.16" fill="#6b5f4c" font-weight="bold">#18</text>
<text transform="translate(209.83 1109.70) scale(0.8360 1)" font-size="30.16" fill="#2456c8" stroke="#2456c8" stroke-width="0.55">Gloria Osasuyi Omosefe</text>
<text transform="translate(525.70 1107.40) scale(0.9500 1)" font-size="22.33" fill="#2456c8" stroke="#2456c8" stroke-width="0.20">8</text>
<text transform="translate(573.40 1107.70) scale(0.8550 1)" font-size="26.17" fill="#0a1a30" stroke="#0a1a30" stroke-width="0.60">Spot-up shooting wing</text>
<text transform="translate(844.87 1107.40) scale(0.9400 1)" font-size="22.33" fill="#2456c8" stroke="#2456c8" stroke-width="0.20">114</text>
<text transform="translate(945.22 1107.40) scale(0.9400 1)" font-size="22.33" fill="#2456c8" stroke="#2456c8" stroke-width="0.20">89</text>
<text transform="translate(1019.33 1107.40) scale(0.9400 1)" font-size="22.33" fill="#2456c8" stroke="#2456c8" stroke-width="0.20">0.781</text>
<text transform="translate(1129.70 1107.40) scale(0.9400 1)" font-size="22.33" fill="#2456c8" stroke="#2456c8" stroke-width="0.20">7</text>
<text transform="translate(1207.89 1107.40) scale(0.9400 1)" font-size="22.33" fill="#2456c8" stroke="#2456c8" stroke-width="0.20">15</text>
<text transform="translate(1280.59 1107.40) scale(0.9400 1)" font-size="22.33" fill="#2456c8" stroke="#2456c8" stroke-width="0.20">13.2%</text>
<text transform="translate(1400.47 1107.40) scale(0.9400 1)" font-size="22.33" fill="#2456c8" stroke="#2456c8" stroke-width="0.20">0.47</text>
<text transform="translate(1520.86 1107.40) scale(0.9400 1)" font-size="22.33" fill="#2456c8" stroke="#2456c8" stroke-width="0.20">34</text>
<text transform="translate(1622.32 1107.40) scale(0.9400 1)" font-size="22.33" fill="#2456c8" stroke="#2456c8" stroke-width="0.20">52</text>
<text transform="translate(1714.92 1107.40) scale(0.9400 1)" font-size="22.33" fill="#2456c8" stroke="#2456c8" stroke-width="0.20">86</text>
<text transform="translate(1786.52 1107.40) scale(0.9400 1)" font-size="22.33" fill="#2456c8" stroke="#2456c8" stroke-width="0.20">39.5%</text>
<text transform="translate(1882.09 1107.40) scale(0.9400 1)" font-size="22.33" fill="#2456c8" stroke="#2456c8" stroke-width="0.20">44.2%</text>
<text transform="translate(1978.19 1107.40) scale(0.9400 1)" font-size="22.33" fill="#2456c8" stroke="#2456c8" stroke-width="0.20">45.1%</text>
<text transform="translate(2086.26 1107.40) scale(0.9400 1)" font-size="22.33" fill="#2456c8" stroke="#2456c8" stroke-width="0.20">99</text>
<text transform="translate(2166.67 1107.40) scale(0.9400 1)" font-size="22.33" fill="#2456c8" stroke="#2456c8" stroke-width="0.20">0.92</text>
<text transform="translate(2256.47 1107.40) scale(0.9400 1)" font-size="22.33" fill="#2456c8" stroke="#2456c8" stroke-width="0.20">0.88</text>
<text transform="translate(2344.01 1107.40) scale(0.9400 1)" font-size="22.33" fill="#111a28" stroke="#111a28" stroke-width="0.20">-0.04</text>
<text transform="translate(2455.46 1107.40) scale(0.9400 1)" font-size="22.33" fill="#2456c8" stroke="#2456c8" stroke-width="0.20">26</text>
<text transform="translate(2556.72 1107.40) scale(0.9400 1)" font-size="22.33" fill="#2456c8" stroke="#2456c8" stroke-width="0.20">32</text>
<text transform="translate(2649.42 1107.40) scale(0.9400 1)" font-size="22.33" fill="#2456c8" stroke="#2456c8" stroke-width="0.20">58</text>
<text transform="translate(2720.79 1107.40) scale(0.9400 1)" font-size="22.33" fill="#2456c8" stroke="#2456c8" stroke-width="0.20">44.8%</text>
<text transform="translate(2843.26 1107.40) scale(0.9400 1)" font-size="22.33" fill="#2456c8" stroke="#2456c8" stroke-width="0.20">8</text>
<text transform="translate(145.84 1179.84) scale(0.9800 1)" font-size="30.16" fill="#6b5f4c" font-weight="bold">#10</text>
<text transform="translate(210.16 1179.84) scale(0.8360 1)" font-size="30.16" fill="#2456c8" stroke="#2456c8" stroke-width="0.55">Jasmine Davis</text>
<text transform="translate(519.47 1177.54) scale(0.9500 1)" font-size="22.33" fill="#2456c8" stroke="#2456c8" stroke-width="0.20">16</text>
<text transform="translate(572.35 1177.84) scale(0.8550 1)" font-size="26.17" fill="#0a1a30" stroke="#0a1a30" stroke-width="0.60">Rim-finishing big</text>
<text transform="translate(844.09 1177.54) scale(0.9400 1)" font-size="22.33" fill="#2456c8" stroke="#2456c8" stroke-width="0.20">134</text>
<text transform="translate(945.22 1177.54) scale(0.9400 1)" font-size="22.33" fill="#2456c8" stroke="#2456c8" stroke-width="0.20">86</text>
<text transform="translate(1019.33 1177.54) scale(0.9400 1)" font-size="22.33" fill="#2456c8" stroke="#2456c8" stroke-width="0.20">0.642</text>
<text transform="translate(1123.53 1177.54) scale(0.9400 1)" font-size="22.33" fill="#2456c8" stroke="#2456c8" stroke-width="0.20">14</text>
<text transform="translate(1208.06 1177.54) scale(0.9400 1)" font-size="22.33" fill="#2456c8" stroke="#2456c8" stroke-width="0.20">27</text>
<text transform="translate(1280.76 1177.54) scale(0.9400 1)" font-size="22.33" fill="#2456c8" stroke="#2456c8" stroke-width="0.20">20.1%</text>
<text transform="translate(1400.47 1177.54) scale(0.9400 1)" font-size="22.33" fill="#2456c8" stroke="#2456c8" stroke-width="0.20">0.52</text>
<text transform="translate(1521.02 1177.54) scale(0.9400 1)" font-size="22.33" fill="#2456c8" stroke="#2456c8" stroke-width="0.20">32</text>
<text transform="translate(1621.99 1177.54) scale(0.9400 1)" font-size="22.33" fill="#2456c8" stroke="#2456c8" stroke-width="0.20">60</text>
<text transform="translate(1714.76 1177.54) scale(0.9400 1)" font-size="22.33" fill="#2456c8" stroke="#2456c8" stroke-width="0.20">92</text>
<text transform="translate(1786.52 1177.54) scale(0.9400 1)" font-size="22.33" fill="#2456c8" stroke="#2456c8" stroke-width="0.20">34.8%</text>
<text transform="translate(1881.92 1177.54) scale(0.9400 1)" font-size="22.33" fill="#2456c8" stroke="#2456c8" stroke-width="0.20">34.8%</text>
<text transform="translate(1978.19 1177.54) scale(0.9400 1)" font-size="22.33" fill="#2456c8" stroke="#2456c8" stroke-width="0.20">40.2%</text>
<text transform="translate(2080.26 1177.54) scale(0.9400 1)" font-size="22.33" fill="#2456c8" stroke="#2456c8" stroke-width="0.20">107</text>
<text transform="translate(2166.67 1177.54) scale(0.9400 1)" font-size="22.33" fill="#2456c8" stroke="#2456c8" stroke-width="0.20">0.98</text>
<text transform="translate(2256.30 1177.54) scale(0.9400 1)" font-size="22.33" fill="#2456c8" stroke="#2456c8" stroke-width="0.20">0.70</text>
<text transform="translate(2344.17 1177.54) scale(0.9400 1)" font-size="22.33" fill="#111a28" stroke="#111a28" stroke-width="0.20">-0.28</text>
<text transform="translate(2455.62 1177.54) scale(0.9400 1)" font-size="22.33" fill="#2456c8" stroke="#2456c8" stroke-width="0.20">32</text>
<text transform="translate(2556.39 1177.54) scale(0.9400 1)" font-size="22.33" fill="#2456c8" stroke="#2456c8" stroke-width="0.20">60</text>
<text transform="translate(2649.26 1177.54) scale(0.9400 1)" font-size="22.33" fill="#2456c8" stroke="#2456c8" stroke-width="0.20">92</text>
<text transform="translate(2720.62 1177.54) scale(0.9400 1)" font-size="22.33" fill="#2456c8" stroke="#2456c8" stroke-width="0.20">34.8%</text>
<text transform="translate(2843.10 1177.54) scale(0.9400 1)" font-size="22.33" fill="#111a28" stroke="#111a28" stroke-width="0.20">0</text>
<text transform="translate(145.84 1249.98) scale(0.9800 1)" font-size="30.16" fill="#6b5f4c" font-weight="bold">#6</text>
<text transform="translate(192.61 1249.98) scale(0.8360 1)" font-size="30.16" fill="#2456c8" stroke="#2456c8" stroke-width="0.55">Kayana Granger</text>
<text transform="translate(519.47 1247.68) scale(0.9500 1)" font-size="22.33" fill="#2456c8" stroke="#2456c8" stroke-width="0.20">13</text>
<text transform="translate(573.40 1247.98) scale(0.8550 1)" font-size="26.17" fill="#0a1a30" stroke="#0a1a30" stroke-width="0.60">Slashing wing</text>
<text transform="translate(844.26 1247.68) scale(0.9400 1)" font-size="22.33" fill="#2456c8" stroke="#2456c8" stroke-width="0.20">136</text>
<text transform="translate(945.06 1247.68) scale(0.9400 1)" font-size="22.33" fill="#2456c8" stroke="#2456c8" stroke-width="0.20">78</text>
<text transform="translate(1019.17 1247.68) scale(0.9400 1)" font-size="22.33" fill="#2456c8" stroke="#2456c8" stroke-width="0.20">0.574</text>
<text transform="translate(1123.53 1247.68) scale(0.9400 1)" font-size="22.33" fill="#2456c8" stroke="#2456c8" stroke-width="0.20">14</text>
<text transform="translate(1208.06 1247.68) scale(0.9400 1)" font-size="22.33" fill="#2456c8" stroke="#2456c8" stroke-width="0.20">27</text>
<text transform="translate(1280.59 1247.68) scale(0.9400 1)" font-size="22.33" fill="#2456c8" stroke="#2456c8" stroke-width="0.20">19.9%</text>
<text transform="translate(1400.47 1247.68) scale(0.9400 1)" font-size="22.33" fill="#2456c8" stroke="#2456c8" stroke-width="0.20">0.52</text>
<text transform="translate(1521.02 1247.68) scale(0.9400 1)" font-size="22.33" fill="#2456c8" stroke="#2456c8" stroke-width="0.20">32</text>
<text transform="translate(1622.16 1247.68) scale(0.9400 1)" font-size="22.33" fill="#2456c8" stroke="#2456c8" stroke-width="0.20">69</text>
<text transform="translate(1708.76 1247.68) scale(0.9400 1)" font-size="22.33" fill="#2456c8" stroke="#2456c8" stroke-width="0.20">101</text>
<text transform="translate(1786.52 1247.68) scale(0.9400 1)" font-size="22.33" fill="#2456c8" stroke="#2456c8" stroke-width="0.20">31.7%</text>
<text transform="translate(1881.92 1247.68) scale(0.9400 1)" font-size="22.33" fill="#2456c8" stroke="#2456c8" stroke-width="0.20">33.7%</text>
<text transform="translate(1978.02 1247.68) scale(0.9400 1)" font-size="22.33" fill="#2456c8" stroke="#2456c8" stroke-width="0.20">35.7%</text>
<text transform="translate(2080.26 1247.68) scale(0.9400 1)" font-size="22.33" fill="#2456c8" stroke="#2456c8" stroke-width="0.20">109</text>
<text transform="translate(2166.67 1247.68) scale(0.9400 1)" font-size="22.33" fill="#2456c8" stroke="#2456c8" stroke-width="0.20">0.79</text>
<text transform="translate(2256.47 1247.68) scale(0.9400 1)" font-size="22.33" fill="#2456c8" stroke="#2456c8" stroke-width="0.20">0.67</text>
<text transform="translate(2344.17 1247.68) scale(0.9400 1)" font-size="22.33" fill="#111a28" stroke="#111a28" stroke-width="0.20">-0.12</text>
<text transform="translate(2455.46 1247.68) scale(0.9400 1)" font-size="22.33" fill="#2456c8" stroke="#2456c8" stroke-width="0.20">28</text>
<text transform="translate(2556.89 1247.68) scale(0.9400 1)" font-size="22.33" fill="#2456c8" stroke="#2456c8" stroke-width="0.20">46</text>
<text transform="translate(2649.09 1247.68) scale(0.9400 1)" font-size="22.33" fill="#2456c8" stroke="#2456c8" stroke-width="0.20">74</text>
<text transform="translate(2720.62 1247.68) scale(0.9400 1)" font-size="22.33" fill="#2456c8" stroke="#2456c8" stroke-width="0.20">37.8%</text>
<text transform="translate(2843.26 1247.68) scale(0.9400 1)" font-size="22.33" fill="#2456c8" stroke="#2456c8" stroke-width="0.20">4</text>
<text transform="translate(145.84 1320.12) scale(0.9800 1)" font-size="30.16" fill="#6b5f4c" font-weight="bold">#2</text>
<text transform="translate(194.18 1320.12) scale(0.8360 1)" font-size="30.16" fill="#2456c8" stroke="#2456c8" stroke-width="0.55">Jaycelyn Valencia</text>
<text transform="translate(519.47 1317.82) scale(0.9500 1)" font-size="22.33" fill="#2456c8" stroke="#2456c8" stroke-width="0.20">16</text>
<text transform="translate(572.35 1318.12) scale(0.8550 1)" font-size="26.17" fill="#0a1a30" stroke="#0a1a30" stroke-width="0.60">Playmaking ball handler</text>
<text transform="translate(844.09 1317.82) scale(0.9400 1)" font-size="22.33" fill="#2456c8" stroke="#2456c8" stroke-width="0.20">144</text>
<text transform="translate(945.06 1317.82) scale(0.9400 1)" font-size="22.33" fill="#2456c8" stroke="#2456c8" stroke-width="0.20">75</text>
<text transform="translate(1019.33 1317.82) scale(0.9400 1)" font-size="22.33" fill="#2456c8" stroke="#2456c8" stroke-width="0.20">0.521</text>
<text transform="translate(1124.19 1317.82) scale(0.9400 1)" font-size="22.33" fill="#2456c8" stroke="#2456c8" stroke-width="0.20">41</text>
<text transform="translate(1208.22 1317.82) scale(0.9400 1)" font-size="22.33" fill="#2456c8" stroke="#2456c8" stroke-width="0.20">52</text>
<text transform="translate(1280.92 1317.82) scale(0.9400 1)" font-size="22.33" fill="#2456c8" stroke="#2456c8" stroke-width="0.20">36.1%</text>
<text transform="translate(1400.47 1317.82) scale(0.9400 1)" font-size="22.33" fill="#2456c8" stroke="#2456c8" stroke-width="0.20">0.79</text>
<text transform="translate(1520.86 1317.82) scale(0.9400 1)" font-size="22.33" fill="#2456c8" stroke="#2456c8" stroke-width="0.20">25</text>
<text transform="translate(1621.99 1317.82) scale(0.9400 1)" font-size="22.33" fill="#2456c8" stroke="#2456c8" stroke-width="0.20">60</text>
<text transform="translate(1714.92 1317.82) scale(0.9400 1)" font-size="22.33" fill="#2456c8" stroke="#2456c8" stroke-width="0.20">85</text>
<text transform="translate(1786.36 1317.82) scale(0.9400 1)" font-size="22.33" fill="#2456c8" stroke="#2456c8" stroke-width="0.20">29.4%</text>
<text transform="translate(1881.92 1317.82) scale(0.9400 1)" font-size="22.33" fill="#2456c8" stroke="#2456c8" stroke-width="0.20">38.8%</text>
<text transform="translate(1978.19 1317.82) scale(0.9400 1)" font-size="22.33" fill="#2456c8" stroke="#2456c8" stroke-width="0.20">40.9%</text>
<text transform="translate(2086.26 1317.82) scale(0.9400 1)" font-size="22.33" fill="#2456c8" stroke="#2456c8" stroke-width="0.20">92</text>
<text transform="translate(2166.67 1317.82) scale(0.9400 1)" font-size="22.33" fill="#2456c8" stroke="#2456c8" stroke-width="0.20">0.83</text>
<text transform="translate(2256.47 1317.82) scale(0.9400 1)" font-size="22.33" fill="#2456c8" stroke="#2456c8" stroke-width="0.20">0.78</text>
<text transform="translate(2344.17 1317.82) scale(0.9400 1)" font-size="22.33" fill="#111a28" stroke="#111a28" stroke-width="0.20">-0.05</text>
<text transform="translate(2461.30 1317.82) scale(0.9400 1)" font-size="22.33" fill="#2456c8" stroke="#2456c8" stroke-width="0.20">9</text>
<text transform="translate(2556.56 1317.82) scale(0.9400 1)" font-size="22.33" fill="#2456c8" stroke="#2456c8" stroke-width="0.20">26</text>
<text transform="translate(2649.42 1317.82) scale(0.9400 1)" font-size="22.33" fill="#2456c8" stroke="#2456c8" stroke-width="0.20">35</text>
<text transform="translate(2720.46 1317.82) scale(0.9400 1)" font-size="22.33" fill="#2456c8" stroke="#2456c8" stroke-width="0.20">25.7%</text>
<text transform="translate(2837.09 1317.82) scale(0.9400 1)" font-size="22.33" fill="#2456c8" stroke="#2456c8" stroke-width="0.20">16</text>
<text transform="translate(145.84 1390.26) scale(0.9800 1)" font-size="30.16" fill="#6b5f4c" font-weight="bold">#14</text>
<text transform="translate(210.75 1390.26) scale(0.8360 1)" font-size="30.16" fill="#2456c8" stroke="#2456c8" stroke-width="0.55">Omon Okojie</text>
<text transform="translate(519.47 1387.96) scale(0.9500 1)" font-size="22.33" fill="#2456c8" stroke="#2456c8" stroke-width="0.20">16</text>
<text transform="translate(572.35 1388.26) scale(0.8550 1)" font-size="26.17" fill="#0a1a30" stroke="#0a1a30" stroke-width="0.60">Rim-finishing big</text>
<text transform="translate(850.26 1387.96) scale(0.9400 1)" font-size="22.33" fill="#2456c8" stroke="#2456c8" stroke-width="0.20">96</text>
<text transform="translate(945.22 1387.96) scale(0.9400 1)" font-size="22.33" fill="#2456c8" stroke="#2456c8" stroke-width="0.20">52</text>
<text transform="translate(1019.33 1387.96) scale(0.9400 1)" font-size="22.33" fill="#2456c8" stroke="#2456c8" stroke-width="0.20">0.542</text>
<text transform="translate(1129.86 1387.96) scale(0.9400 1)" font-size="22.33" fill="#2456c8" stroke="#2456c8" stroke-width="0.20">4</text>
<text transform="translate(1208.06 1387.96) scale(0.9400 1)" font-size="22.33" fill="#2456c8" stroke="#2456c8" stroke-width="0.20">23</text>
<text transform="translate(1280.76 1387.96) scale(0.9400 1)" font-size="22.33" fill="#2456c8" stroke="#2456c8" stroke-width="0.20">24.0%</text>
<text transform="translate(1400.47 1387.96) scale(0.9400 1)" font-size="22.33" fill="#2456c8" stroke="#2456c8" stroke-width="0.20">0.17</text>
<text transform="translate(1520.86 1387.96) scale(0.9400 1)" font-size="22.33" fill="#2456c8" stroke="#2456c8" stroke-width="0.20">21</text>
<text transform="translate(1622.49 1387.96) scale(0.9400 1)" font-size="22.33" fill="#2456c8" stroke="#2456c8" stroke-width="0.20">41</text>
<text transform="translate(1714.76 1387.96) scale(0.9400 1)" font-size="22.33" fill="#2456c8" stroke="#2456c8" stroke-width="0.20">62</text>
<text transform="translate(1786.52 1387.96) scale(0.9400 1)" font-size="22.33" fill="#2456c8" stroke="#2456c8" stroke-width="0.20">33.9%</text>
<text transform="translate(1881.92 1387.96) scale(0.9400 1)" font-size="22.33" fill="#2456c8" stroke="#2456c8" stroke-width="0.20">33.9%</text>
<text transform="translate(1978.02 1387.96) scale(0.9400 1)" font-size="22.33" fill="#2456c8" stroke="#2456c8" stroke-width="0.20">36.3%</text>
<text transform="translate(2086.26 1387.96) scale(0.9400 1)" font-size="22.33" fill="#2456c8" stroke="#2456c8" stroke-width="0.20">72</text>
<text transform="translate(2166.50 1387.96) scale(0.9400 1)" font-size="22.33" fill="#2456c8" stroke="#2456c8" stroke-width="0.20">0.90</text>
<text transform="translate(2256.47 1387.96) scale(0.9400 1)" font-size="22.33" fill="#2456c8" stroke="#2456c8" stroke-width="0.20">0.68</text>
<text transform="translate(2344.17 1387.96) scale(0.9400 1)" font-size="22.33" fill="#111a28" stroke="#111a28" stroke-width="0.20">-0.22</text>
<text transform="translate(2455.46 1387.96) scale(0.9400 1)" font-size="22.33" fill="#2456c8" stroke="#2456c8" stroke-width="0.20">21</text>
<text transform="translate(2556.89 1387.96) scale(0.9400 1)" font-size="22.33" fill="#2456c8" stroke="#2456c8" stroke-width="0.20">41</text>
<text transform="translate(2649.26 1387.96) scale(0.9400 1)" font-size="22.33" fill="#2456c8" stroke="#2456c8" stroke-width="0.20">62</text>
<text transform="translate(2720.62 1387.96) scale(0.9400 1)" font-size="22.33" fill="#2456c8" stroke="#2456c8" stroke-width="0.20">33.9%</text>
<text transform="translate(2843.10 1387.96) scale(0.9400 1)" font-size="22.33" fill="#111a28" stroke="#111a28" stroke-width="0.20">0</text>
<text transform="translate(145.84 1460.40) scale(0.9800 1)" font-size="30.16" fill="#6b5f4c" font-weight="bold">#16</text>
<text transform="translate(210.62 1460.40) scale(0.8360 1)" font-size="30.16" fill="#2456c8" stroke="#2456c8" stroke-width="0.55">Jordane Prendergast</text>
<text transform="translate(525.70 1458.10) scale(0.9500 1)" font-size="22.33" fill="#2456c8" stroke="#2456c8" stroke-width="0.20">8</text>
<text transform="translate(573.40 1458.40) scale(0.8550 1)" font-size="26.17" fill="#0a1a30" stroke="#0a1a30" stroke-width="0.60">Scoring ball handler</text>
<text transform="translate(850.26 1458.10) scale(0.9400 1)" font-size="22.33" fill="#2456c8" stroke="#2456c8" stroke-width="0.20">75</text>
<text transform="translate(945.22 1458.10) scale(0.9400 1)" font-size="22.33" fill="#2456c8" stroke="#2456c8" stroke-width="0.20">51</text>
<text transform="translate(1019.17 1458.10) scale(0.9400 1)" font-size="22.33" fill="#2456c8" stroke="#2456c8" stroke-width="0.20">0.680</text>
<text transform="translate(1129.86 1458.10) scale(0.9400 1)" font-size="22.33" fill="#2456c8" stroke="#2456c8" stroke-width="0.20">5</text>
<text transform="translate(1207.89 1458.10) scale(0.9400 1)" font-size="22.33" fill="#2456c8" stroke="#2456c8" stroke-width="0.20">19</text>
<text transform="translate(1280.76 1458.10) scale(0.9400 1)" font-size="22.33" fill="#2456c8" stroke="#2456c8" stroke-width="0.20">25.3%</text>
<text transform="translate(1400.47 1458.10) scale(0.9400 1)" font-size="22.33" fill="#2456c8" stroke="#2456c8" stroke-width="0.20">0.26</text>
<text transform="translate(1520.53 1458.10) scale(0.9400 1)" font-size="22.33" fill="#2456c8" stroke="#2456c8" stroke-width="0.20">14</text>
<text transform="translate(1622.16 1458.10) scale(0.9400 1)" font-size="22.33" fill="#2456c8" stroke="#2456c8" stroke-width="0.20">26</text>
<text transform="translate(1714.92 1458.10) scale(0.9400 1)" font-size="22.33" fill="#2456c8" stroke="#2456c8" stroke-width="0.20">40</text>
<text transform="translate(1786.52 1458.10) scale(0.9400 1)" font-size="22.33" fill="#2456c8" stroke="#2456c8" stroke-width="0.20">35.0%</text>
<text transform="translate(1881.92 1458.10) scale(0.9400 1)" font-size="22.33" fill="#2456c8" stroke="#2456c8" stroke-width="0.20">37.5%</text>
<text transform="translate(1978.19 1458.10) scale(0.9400 1)" font-size="22.33" fill="#2456c8" stroke="#2456c8" stroke-width="0.20">46.4%</text>
<text transform="translate(2086.42 1458.10) scale(0.9400 1)" font-size="22.33" fill="#2456c8" stroke="#2456c8" stroke-width="0.20">55</text>
<text transform="translate(2166.50 1458.10) scale(0.9400 1)" font-size="22.33" fill="#2456c8" stroke="#2456c8" stroke-width="0.20">0.84</text>
<text transform="translate(2256.47 1458.10) scale(0.9400 1)" font-size="22.33" fill="#2456c8" stroke="#2456c8" stroke-width="0.20">0.75</text>
<text transform="translate(2344.17 1458.10) scale(0.9400 1)" font-size="22.33" fill="#111a28" stroke="#111a28" stroke-width="0.20">-0.09</text>
<text transform="translate(2455.29 1458.10) scale(0.9400 1)" font-size="22.33" fill="#2456c8" stroke="#2456c8" stroke-width="0.20">12</text>
<text transform="translate(2556.39 1458.10) scale(0.9400 1)" font-size="22.33" fill="#2456c8" stroke="#2456c8" stroke-width="0.20">20</text>
<text transform="translate(2649.42 1458.10) scale(0.9400 1)" font-size="22.33" fill="#2456c8" stroke="#2456c8" stroke-width="0.20">32</text>
<text transform="translate(2720.62 1458.10) scale(0.9400 1)" font-size="22.33" fill="#2456c8" stroke="#2456c8" stroke-width="0.20">37.5%</text>
<text transform="translate(2843.10 1458.10) scale(0.9400 1)" font-size="22.33" fill="#2456c8" stroke="#2456c8" stroke-width="0.20">2</text>
<text transform="translate(145.84 1530.54) scale(0.9800 1)" font-size="30.16" fill="#6b5f4c" font-weight="bold">#4</text>
<text transform="translate(194.71 1530.54) scale(0.8360 1)" font-size="30.16" fill="#2456c8" stroke="#2456c8" stroke-width="0.55">Shay Littman</text>
<text transform="translate(519.30 1528.24) scale(0.9500 1)" font-size="22.33" fill="#2456c8" stroke="#2456c8" stroke-width="0.20">14</text>
<text transform="translate(573.40 1528.54) scale(0.8550 1)" font-size="26.17" fill="#0a1a30" stroke="#0a1a30" stroke-width="0.60">Secondary ball handler</text>
<text transform="translate(844.09 1528.24) scale(0.9400 1)" font-size="22.33" fill="#2456c8" stroke="#2456c8" stroke-width="0.20">120</text>
<text transform="translate(945.39 1528.24) scale(0.9400 1)" font-size="22.33" fill="#2456c8" stroke="#2456c8" stroke-width="0.20">47</text>
<text transform="translate(1019.33 1528.24) scale(0.9400 1)" font-size="22.33" fill="#2456c8" stroke="#2456c8" stroke-width="0.20">0.392</text>
<text transform="translate(1123.69 1528.24) scale(0.9400 1)" font-size="22.33" fill="#2456c8" stroke="#2456c8" stroke-width="0.20">24</text>
<text transform="translate(1208.39 1528.24) scale(0.9400 1)" font-size="22.33" fill="#2456c8" stroke="#2456c8" stroke-width="0.20">48</text>
<text transform="translate(1281.09 1528.24) scale(0.9400 1)" font-size="22.33" fill="#2456c8" stroke="#2456c8" stroke-width="0.20">40.0%</text>
<text transform="translate(1400.30 1528.24) scale(0.9400 1)" font-size="22.33" fill="#2456c8" stroke="#2456c8" stroke-width="0.20">0.50</text>
<text transform="translate(1520.69 1528.24) scale(0.9400 1)" font-size="22.33" fill="#2456c8" stroke="#2456c8" stroke-width="0.20">15</text>
<text transform="translate(1622.49 1528.24) scale(0.9400 1)" font-size="22.33" fill="#2456c8" stroke="#2456c8" stroke-width="0.20">48</text>
<text transform="translate(1714.76 1528.24) scale(0.9400 1)" font-size="22.33" fill="#2456c8" stroke="#2456c8" stroke-width="0.20">63</text>
<text transform="translate(1786.36 1528.24) scale(0.9400 1)" font-size="22.33" fill="#2456c8" stroke="#2456c8" stroke-width="0.20">23.8%</text>
<text transform="translate(1881.76 1528.24) scale(0.9400 1)" font-size="22.33" fill="#2456c8" stroke="#2456c8" stroke-width="0.20">28.6%</text>
<text transform="translate(1978.02 1528.24) scale(0.9400 1)" font-size="22.33" fill="#2456c8" stroke="#2456c8" stroke-width="0.20">32.7%</text>
<text transform="translate(2086.26 1528.24) scale(0.9400 1)" font-size="22.33" fill="#2456c8" stroke="#2456c8" stroke-width="0.20">72</text>
<text transform="translate(2166.50 1528.24) scale(0.9400 1)" font-size="22.33" fill="#2456c8" stroke="#2456c8" stroke-width="0.20">0.74</text>
<text transform="translate(2256.47 1528.24) scale(0.9400 1)" font-size="22.33" fill="#2456c8" stroke="#2456c8" stroke-width="0.20">0.57</text>
<text transform="translate(2344.17 1528.24) scale(0.9400 1)" font-size="22.33" fill="#111a28" stroke="#111a28" stroke-width="0.20">-0.17</text>
<text transform="translate(2461.30 1528.24) scale(0.9400 1)" font-size="22.33" fill="#2456c8" stroke="#2456c8" stroke-width="0.20">9</text>
<text transform="translate(2556.56 1528.24) scale(0.9400 1)" font-size="22.33" fill="#2456c8" stroke="#2456c8" stroke-width="0.20">29</text>
<text transform="translate(2649.42 1528.24) scale(0.9400 1)" font-size="22.33" fill="#2456c8" stroke="#2456c8" stroke-width="0.20">38</text>
<text transform="translate(2720.46 1528.24) scale(0.9400 1)" font-size="22.33" fill="#2456c8" stroke="#2456c8" stroke-width="0.20">23.7%</text>
<text transform="translate(2843.10 1528.24) scale(0.9400 1)" font-size="22.33" fill="#2456c8" stroke="#2456c8" stroke-width="0.20">6</text>
<text transform="translate(145.84 1600.68) scale(0.9800 1)" font-size="30.16" fill="#6b5f4c" font-weight="bold">#5</text>
<text transform="translate(194.18 1600.68) scale(0.8360 1)" font-size="30.16" fill="#2456c8" stroke="#2456c8" stroke-width="0.55">Jizelle Manansala</text>
<text transform="translate(525.53 1598.38) scale(0.9500 1)" font-size="22.33" fill="#2456c8" stroke="#2456c8" stroke-width="0.20">7</text>
<text transform="translate(573.40 1598.68) scale(0.8550 1)" font-size="26.17" fill="#0a1a30" stroke="#0a1a30" stroke-width="0.60">Secondary ball handler</text>
<text transform="translate(850.26 1598.38) scale(0.9400 1)" font-size="22.33" fill="#2456c8" stroke="#2456c8" stroke-width="0.20">67</text>
<text transform="translate(945.06 1598.38) scale(0.9400 1)" font-size="22.33" fill="#2456c8" stroke="#2456c8" stroke-width="0.20">34</text>
<text transform="translate(1019.33 1598.38) scale(0.9400 1)" font-size="22.33" fill="#2456c8" stroke="#2456c8" stroke-width="0.20">0.507</text>
<text transform="translate(1129.70 1598.38) scale(0.9400 1)" font-size="22.33" fill="#2456c8" stroke="#2456c8" stroke-width="0.20">9</text>
<text transform="translate(1208.06 1598.38) scale(0.9400 1)" font-size="22.33" fill="#2456c8" stroke="#2456c8" stroke-width="0.20">26</text>
<text transform="translate(1280.92 1598.38) scale(0.9400 1)" font-size="22.33" fill="#2456c8" stroke="#2456c8" stroke-width="0.20">38.8%</text>
<text transform="translate(1400.47 1598.38) scale(0.9400 1)" font-size="22.33" fill="#2456c8" stroke="#2456c8" stroke-width="0.20">0.35</text>
<text transform="translate(1520.69 1598.38) scale(0.9400 1)" font-size="22.33" fill="#2456c8" stroke="#2456c8" stroke-width="0.20">12</text>
<text transform="translate(1622.16 1598.38) scale(0.9400 1)" font-size="22.33" fill="#2456c8" stroke="#2456c8" stroke-width="0.20">22</text>
<text transform="translate(1714.76 1598.38) scale(0.9400 1)" font-size="22.33" fill="#2456c8" stroke="#2456c8" stroke-width="0.20">34</text>
<text transform="translate(1786.52 1598.38) scale(0.9400 1)" font-size="22.33" fill="#2456c8" stroke="#2456c8" stroke-width="0.20">35.3%</text>
<text transform="translate(1881.92 1598.38) scale(0.9400 1)" font-size="22.33" fill="#2456c8" stroke="#2456c8" stroke-width="0.20">39.7%</text>
<text transform="translate(1978.19 1598.38) scale(0.9400 1)" font-size="22.33" fill="#2456c8" stroke="#2456c8" stroke-width="0.20">42.3%</text>
<text transform="translate(2086.42 1598.38) scale(0.9400 1)" font-size="22.33" fill="#2456c8" stroke="#2456c8" stroke-width="0.20">40</text>
<text transform="translate(2166.67 1598.38) scale(0.9400 1)" font-size="22.33" fill="#2456c8" stroke="#2456c8" stroke-width="0.20">0.89</text>
<text transform="translate(2256.47 1598.38) scale(0.9400 1)" font-size="22.33" fill="#2456c8" stroke="#2456c8" stroke-width="0.20">0.79</text>
<text transform="translate(2344.01 1598.38) scale(0.9400 1)" font-size="22.33" fill="#111a28" stroke="#111a28" stroke-width="0.20">-0.10</text>
<text transform="translate(2461.30 1598.38) scale(0.9400 1)" font-size="22.33" fill="#2456c8" stroke="#2456c8" stroke-width="0.20">9</text>
<text transform="translate(2562.40 1598.38) scale(0.9400 1)" font-size="22.33" fill="#2456c8" stroke="#2456c8" stroke-width="0.20">9</text>
<text transform="translate(2649.09 1598.38) scale(0.9400 1)" font-size="22.33" fill="#2456c8" stroke="#2456c8" stroke-width="0.20">18</text>
<text transform="translate(2720.62 1598.38) scale(0.9400 1)" font-size="22.33" fill="#2456c8" stroke="#2456c8" stroke-width="0.20">50.0%</text>
<text transform="translate(2843.26 1598.38) scale(0.9400 1)" font-size="22.33" fill="#2456c8" stroke="#2456c8" stroke-width="0.20">3</text>
</svg>
<div class="t"><div style="left:2876px;top:1497px;width:108px;height:108px;background:#4a943c;border-radius:54px 12px 54px 54px;box-shadow:0 5px 10px rgba(0,0,0,0.28)"></div>
<div style="left:668px;top:406.5px;width:309.5px;height:133.5px;box-sizing:border-box;border:10.5px solid #ed6b5a"></div></div>
<svg style="position:absolute;left:0;top:0" width="3020" height="1642"><path d="M2910.6,1567.7 L2910.6,1545.2 Q2910.6,1537.2 2918.6,1537.2 L2943.9,1537.2 Q2951.9,1537.2 2951.9,1545.2 L2951.9,1559.7 Q2951.9,1567.7 2943.9,1567.7 L2910.6,1567.7 Z" fill="#fff"/><path d="M2919.5,1548 L2943,1548 M2919.5,1556.8 L2934.5,1556.8" stroke="#4a943c" stroke-width="3.6" stroke-linecap="round"/></svg>
</body></html>
